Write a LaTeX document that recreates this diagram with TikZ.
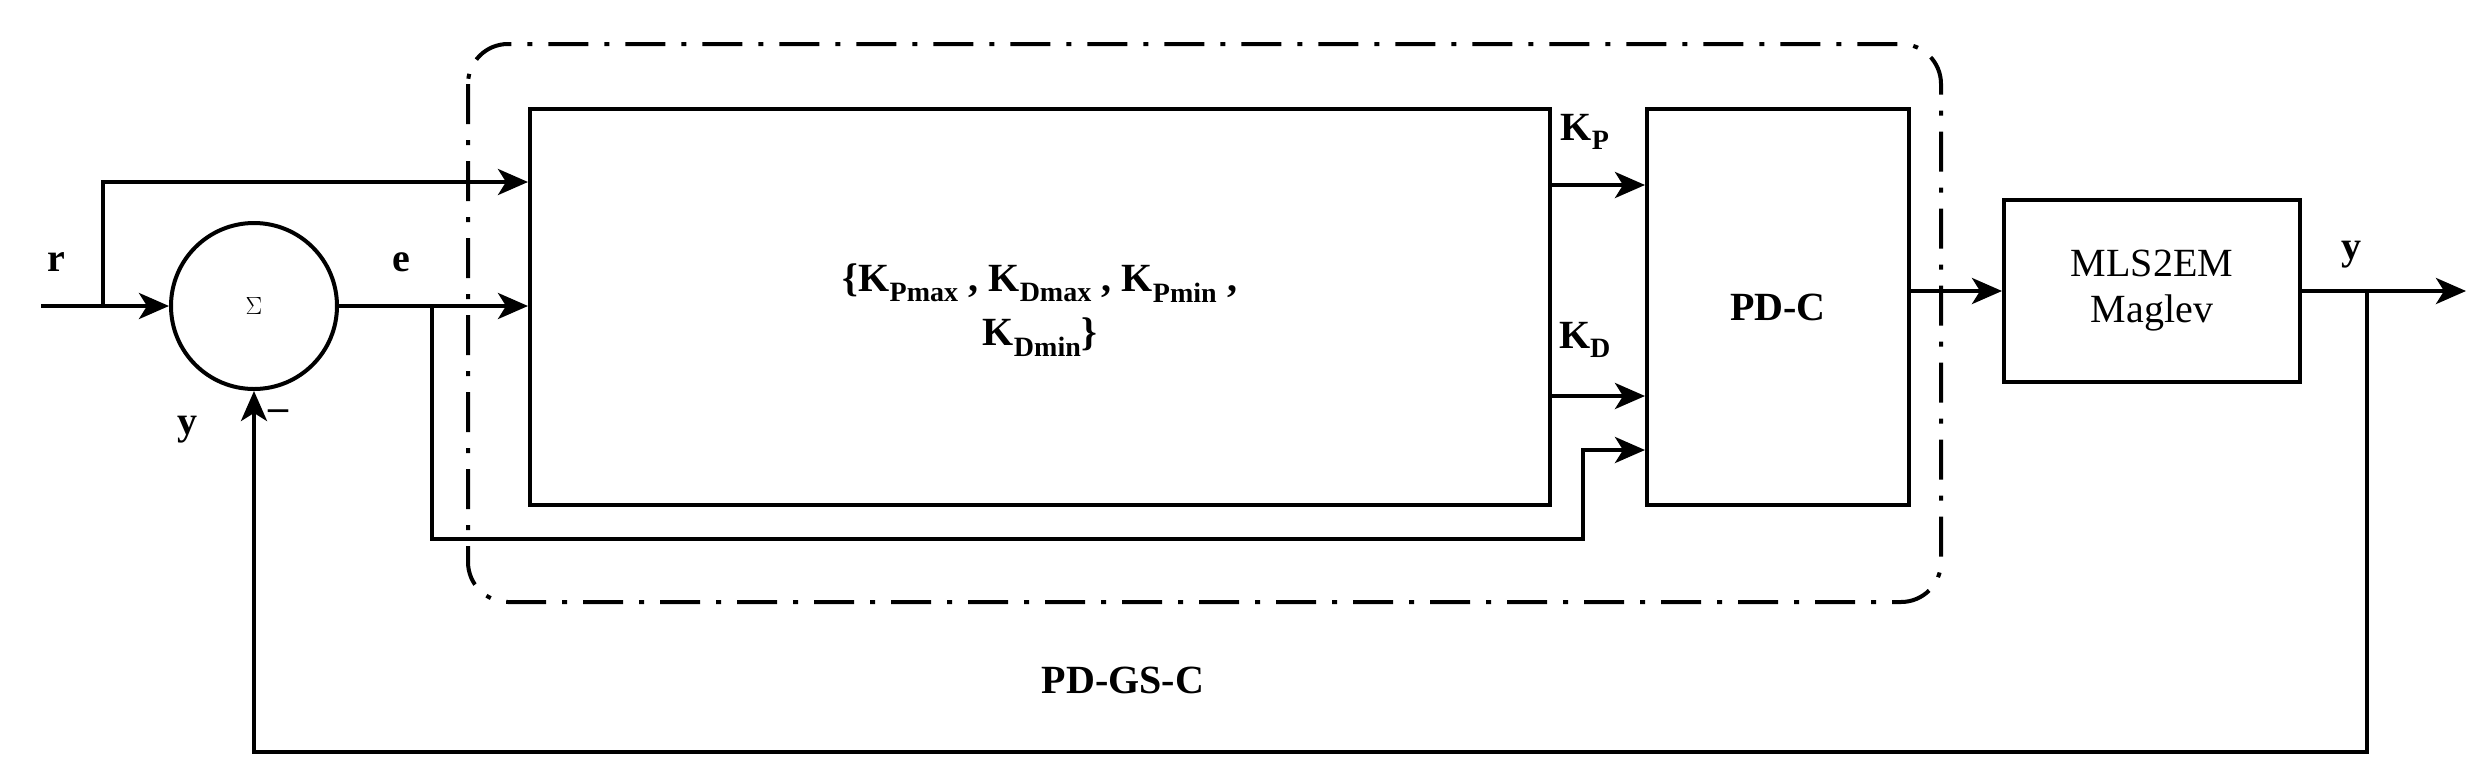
\documentclass[tikz,border=0pt]{standalone}
\usepackage{fontspec}
\setmainfont{Liberation Serif}
\usetikzlibrary{arrows.meta}
\begin{document}
\begin{tikzpicture}[x=1pt,y=-1pt,
  line width=4pt,
  arr/.style={-{Stealth[length=30pt,width=26pt,inset=8pt]}},
  blk/.style={draw,inner sep=0pt},
  lbl/.style={font=\fontsize{40}{46}\selectfont\bfseries,inner sep=0pt},
  lbln/.style={font=\fontsize{40}{46}\selectfont,inner sep=0pt,align=center}]
\useasboundingbox (0,0) rectangle (2488,782);
% dash-dot group
\draw[line width=4pt,rounded corners=40pt,dash pattern=on 40pt off 16pt on 5pt off 16pt] (468,44) rectangle (1941,602);
% blocks
\node[blk,minimum width=1020pt,minimum height=396pt] (gs) at (1040,307) {};
\node[lbl,align=center] (gst) at (1040,310) {\{K\textsubscript{Pmax} , K\textsubscript{Dmax} , K\textsubscript{Pmin} ,\\[8pt] K\textsubscript{Dmin}\}};
\node[blk,minimum width=262pt,minimum height=396pt,lbl] (pdc) at (1778,307) {PD-C};
\node[blk,minimum width=296pt,minimum height=182pt,lbln] (mag) at (2152,291) {MLS2EM\\Maglev};
\node[draw,circle,minimum size=166pt,inner sep=0pt] (sum) at (254,306) {\fontsize{80}{80}\selectfont$\Sigma$};
% coordinates
\coordinate (rin) at (41,306);
\coordinate (rb) at (103,306);
\coordinate (eb) at (432,306);
\coordinate (yb) at (2367,291);
\coordinate (yout) at (2466,291);
% connectors
\draw[arr] (rin) -- (sum.west);
\draw[arr] (rb) |- (gs.west |- 0,182);
\draw[arr] (sum.east) -- (gs.west |- sum.east);
\draw[arr] (eb) -- (432,539) -- (1583,539) -- (1583,450) -- (pdc.west |- 0,450);
\draw[arr] (gs.east |- 0,185) -- (pdc.west |- 0,185);
\draw[arr] (gs.east |- 0,396) -- (pdc.west |- 0,396);
\draw[arr] (pdc.east |- mag.west) -- (mag.west);
\draw[arr] (mag.east) -- (yout);
\draw[arr] (yb) -- (2367,752) -- (254,752) -- (sum.south);
% labels
\node[lbl] (lr) at (56,262) {r};
\node[lbl] (le) at (401,262) {e};
\node[lbl] (ly) at (187,430) {y};
\node[lbl] (lm) at (278,415) {--};
\node[lbl] (lkp) at (1585,132) {K\textsubscript{P}};
\node[lbl] (lkd) at (1585,340) {K\textsubscript{D}};
\node[lbl] (ly2) at (2351,255) {y};
\node[lbl] (lgs) at (1123,680) {PD-GS-C};
\end{tikzpicture}
\end{document}
